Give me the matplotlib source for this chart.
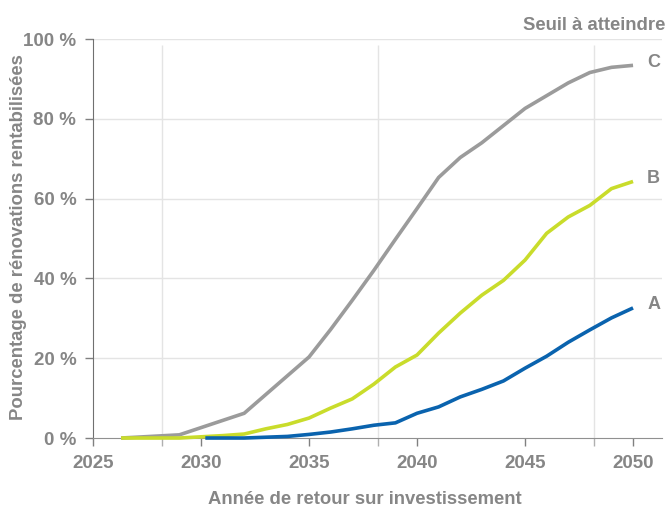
import matplotlib
matplotlib.use('Agg')
import matplotlib.pyplot as plt

plt.rcParams['font.family'] = ['Liberation Sans', 'DejaVu Sans']

# Scenario C (grey)
years_c = [2026.3, 2027, 2028, 2029, 2030, 2031, 2032, 2033, 2034, 2035, 2036, 2037,
           2038, 2039, 2040, 2041, 2042, 2043, 2044, 2045, 2046, 2047, 2048, 2049, 2050]
values_c = [0, 0.2, 0.5, 0.8, 2.6, 4.4, 6.2, 10.9, 15.6, 20.3, 27.2, 34.5,
            42.0, 49.8, 57.5, 65.3, 70.3, 74.0, 78.3, 82.6, 85.8, 89.0, 91.6, 92.9, 93.4]

# Scenario B (green)
years_b = [2026.3, 2027, 2028, 2029, 2030, 2031, 2032, 2033, 2034, 2035, 2036, 2037,
           2038, 2039, 2040, 2041, 2042, 2043, 2044, 2045, 2046, 2047, 2048, 2049, 2050]
values_b = [0, 0, 0, 0, 0.3, 0.6, 1.0, 2.3, 3.4, 5.0, 7.5, 9.8,
            13.5, 17.8, 20.8, 26.3, 31.3, 35.8, 39.5, 44.6, 51.3, 55.4, 58.3, 62.5, 64.3]

# Scenario A (blue)
years_a = [2030.2, 2031, 2032, 2033, 2034, 2035, 2036, 2037, 2038, 2039, 2040, 2041,
           2042, 2043, 2044, 2045, 2046, 2047, 2048, 2049, 2050]
values_a = [0, 0, 0, 0.2, 0.4, 0.9, 1.5, 2.3, 3.2, 3.8, 6.2, 7.8,
            10.3, 12.2, 14.3, 17.5, 20.5, 24.0, 27.1, 30.1, 32.6]

series_labels = ['C', 'B', 'A']
y_ticks = [0, 20, 40, 60, 80, 100]
x_ticks = [2025, 2030, 2035, 2040, 2045, 2050]
v_grid = [2028.2, 2038.2, 2048.2]

text_col = '#868686'
colors = ['#9b9b9b', '#c9dc2b', '#0a63ae']

fig = plt.figure(figsize=(6.67, 5.12), dpi=100)
ax = fig.add_axes([0.1394, 0.1445, 0.8531, 0.7793])

ax.set_xlim(2025, 2051.34)
ax.set_ylim(0, 100)

# grid
for y in y_ticks[1:]:
    ax.axhline(y, color='#e4e4e4', lw=1.0, zorder=0)
ax.vlines(v_grid, 0, 98.5, color='#e4e4e4', lw=1.0, zorder=0)

series = [(years_c, values_c), (years_b, values_b), (years_a, values_a)]
for (xs, ys), col, lab in zip(series, colors, series_labels):
    ax.plot(xs, ys, color=col, lw=2.6, solid_capstyle='butt', clip_on=False, zorder=3)
    ax.text(2050.65, ys[-1] + 0.8, lab, color=text_col, fontsize=13, fontweight='bold',
            ha='left', va='center')

ax.spines['top'].set_visible(False)
ax.spines['right'].set_visible(False)
ax.spines['left'].set_color('#707070')
ax.spines['bottom'].set_color('#909090')

ax.set_yticks(y_ticks)
ax.set_yticklabels([f'{v} %' for v in y_ticks])
ax.set_xticks(x_ticks)
ax.set_xticks(v_grid, minor=True)
ax.tick_params(axis='both', which='major', length=6, width=1, color='#808080',
               labelcolor=text_col, labelsize=13.5, pad=6)
ax.tick_params(axis='x', which='minor', length=6, width=1, color='#b0b0b0')
for t in ax.get_xticklabels() + ax.get_yticklabels():
    t.set_fontweight('bold')

fig.text(0.547, 0.024, 'Année de retour sur investissement', color=text_col,
         fontsize=13.3, fontweight='bold', ha='center', va='center')
fig.text(0.027, 0.537, 'Pourcentage de rénovations rentabilisées', color=text_col,
         fontsize=13.3, fontweight='bold', ha='center', va='center', rotation=90)
fig.text(0.997, 0.951, 'Seuil à atteindre', color=text_col,
         fontsize=13.3, fontweight='bold', ha='right', va='center')

fig.savefig('out.png', dpi=100)
